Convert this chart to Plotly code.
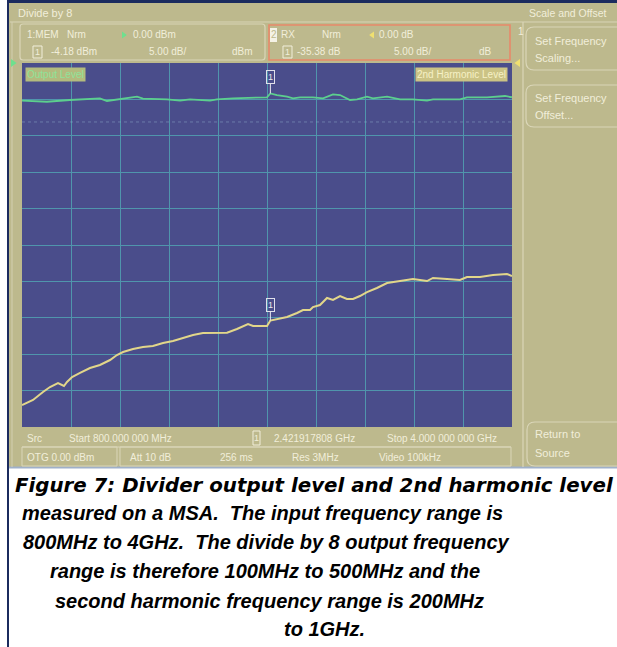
import plotly.graph_objects as go

W, H = 617, 647
def px(x): return x / W
def py(y): return 1 - y / H

# ---------------- data ----------------
x_start, x_stop = 0.8, 4.0          # GHz
ref_level, db_per_div = 0.0, 5.0    # dBm, dB/div
n_div = 10
marker_freq = 2.421917808
marker_out = -4.18
marker_h2 = -35.38
display_line = -8.1

freq_out = [0.800, 0.963, 1.113, 1.198, 1.309, 1.355, 1.420, 1.551, 1.590, 1.747,
            1.832, 1.897, 2.028, 2.073, 2.178, 2.400, 2.422, 2.465, 2.531, 2.570,
            2.616, 2.700, 2.766, 2.831, 2.877, 2.942, 2.988, 3.053, 3.092, 3.184,
            3.269, 3.353, 3.445, 3.484, 3.660, 3.706, 3.837, 3.954, 4.000]
lvl_out = [-5.18, -5.32, -5.08, -4.99, -4.85, -5.22, -4.99, -4.63, -4.90, -4.99,
           -5.18, -4.99, -5.18, -4.99, -4.85, -4.71, -4.18, -4.40, -4.63, -4.85,
           -4.71, -4.71, -4.85, -4.30, -4.40, -5.08, -4.99, -4.63, -4.85, -4.63,
           -4.99, -4.99, -5.18, -4.99, -4.99, -4.71, -4.71, -4.53, -4.71]

freq_h2 = [0.800, 0.872, 0.937, 0.983, 1.035, 1.074, 1.094, 1.127, 1.179, 1.244,
           1.309, 1.375, 1.420, 1.460, 1.525, 1.590, 1.655, 1.721, 1.786, 1.851,
           1.917, 1.982, 2.073, 2.139, 2.204, 2.276, 2.309, 2.400, 2.422, 2.465,
           2.531, 2.596, 2.635, 2.681, 2.700, 2.746, 2.792, 2.831, 2.877, 2.922,
           2.962, 3.007, 3.053, 3.118, 3.184, 3.269, 3.353, 3.445, 3.484, 3.576,
           3.660, 3.706, 3.791, 3.876, 3.967, 4.000]
lvl_h2 = [-46.98, -46.29, -45.19, -44.51, -43.96, -44.37, -43.82, -43.13, -42.58, -41.90,
          -41.48, -40.80, -40.11, -39.70, -39.29, -39.01, -38.87, -38.46, -38.19, -37.77,
          -37.36, -37.09, -37.09, -37.04, -36.54, -35.85, -36.13, -36.13, -35.38, -35.16,
          -34.89, -34.34, -33.93, -33.93, -33.52, -33.24, -32.28, -32.55, -32.01, -32.42,
          -32.42, -32.01, -31.46, -30.91, -30.22, -29.95, -29.67, -29.95, -29.53, -29.67,
          -29.81, -29.40, -29.40, -29.12, -28.98, -29.26]

caption_lines = [
    "Figure 7: Divider output level and 2nd harmonic level",
    "measured on a MSA.&nbsp; The input frequency range is",
    "800MHz to 4GHz.&nbsp; The divide by 8 output frequency",
    "range is therefore 100MHz to 500MHz and the",
    "second harmonic frequency range is 200MHz",
    "to 1GHz.",
]

# ---------------- style ----------------
KHAKI = "#BDB98D"
CREAM = "#F1EEDA"
NAVY = "#1B2B5E"
BLUE = "#4A4D8B"
GRID = "#5095AC"
GREEN = "#5CCF8E"
YELLOW = "#E2D68A"
ORANGE = "#E8896A"
FONT = "Liberation Sans, Arial, sans-serif"

fig = go.Figure()
fig.add_trace(go.Scatter(x=freq_out, y=lvl_out, mode="lines",
                         line=dict(color=GREEN, width=1.8), hoverinfo="skip"))
fig.add_trace(go.Scatter(x=freq_h2, y=lvl_h2, mode="lines",
                         line=dict(color=YELLOW, width=2), hoverinfo="skip"))

xt = [x_start + i * (x_stop - x_start) / n_div for i in range(n_div + 1)]
yt = [ref_level - i * db_per_div for i in range(n_div + 1)]

shapes = []
def rect(x0, y0, x1, y1, line=None, fill=None, w=1):
    shapes.append(dict(type="rect", xref="paper", yref="paper",
                       x0=px(x0), x1=px(x1), y0=py(y1), y1=py(y0),
                       line=dict(color=line or "rgba(0,0,0,0)", width=w if line else 0),
                       fillcolor=fill or "rgba(0,0,0,0)", layer="below" if fill and not line else "above"))
def hline(x0, x1, y, color, w=1):
    shapes.append(dict(type="line", xref="paper", yref="paper",
                       x0=px(x0), x1=px(x1), y0=py(y), y1=py(y),
                       line=dict(color=color, width=w)))
def vline(x, y0, y1, color, w=1):
    shapes.append(dict(type="line", xref="paper", yref="paper",
                       x0=px(x), x1=px(x), y0=py(y0), y1=py(y1),
                       line=dict(color=color, width=w)))
def rrect(x0, y0, x1, y1, r, color, w=1):
    p = (f"M{px(x0+r)},{py(y0)} L{px(x1-r)},{py(y0)} Q{px(x1)},{py(y0)} {px(x1)},{py(y0+r)} "
         f"L{px(x1)},{py(y1-r)} Q{px(x1)},{py(y1)} {px(x1-r)},{py(y1)} "
         f"L{px(x0+r)},{py(y1)} Q{px(x0)},{py(y1)} {px(x0)},{py(y1-r)} "
         f"L{px(x0)},{py(y0+r)} Q{px(x0)},{py(y0)} {px(x0+r)},{py(y0)} Z")
    shapes.append(dict(type="path", xref="paper", yref="paper", path=p,
                       line=dict(color=color, width=w)))
def tri(x, y, s, color, right=True):
    if right:
        p = f"M{px(x)},{py(y-s)} L{px(x+s*1.4)},{py(y)} L{px(x)},{py(y+s)} Z"
    else:
        p = f"M{px(x)},{py(y-s)} L{px(x-s*1.4)},{py(y)} L{px(x)},{py(y+s)} Z"
    shapes.append(dict(type="path", xref="paper", yref="paper", path=p,
                       line=dict(color=color, width=0), fillcolor=color))

# instrument background
rect(8, 0, 617, 467, fill=KHAKI)
rect(22, 63, 512, 427, fill=BLUE)
rect(8, 0, 617, 3, fill=NAVY)
vline(8, 0, 647, NAVY, 2)
hline(9, 617, 467.5, "#9FB0C9", 2)
hline(10, 617, 22, "#D8D4B6", 1)
vline(12, 22, 467, "#D3CFB0", 1)
# info boxes
rrect(20, 24, 265, 60, 3, "#DAD6B8", 1.2)
rect(269, 25, 510, 60, line=ORANGE, w=1.6)
# right panel
vline(523, 22, 467, "#DAD6B8", 1.2)
rrect(526, 27, 640, 70, 8, "#DAD6B8", 1.2)
rrect(526, 85, 640, 127, 8, "#DAD6B8", 1.2)
rrect(527, 422, 640, 466, 8, "#DAD6B8", 1.2)
# bottom bar
hline(22, 511, 447, "#DAD6B8", 1)
rect(22, 447, 117, 466, line="#DAD6B8", w=1)
rect(120, 447, 511, 466, line="#DAD6B8", w=1)
# small boxed '1's
rect(33, 46, 42, 58, line=CREAM, w=1)
rect(283, 46, 292, 58, line=CREAM, w=1)
rect(253, 431, 260, 445, line=CREAM, w=1)
rect(270, 28, 277, 42, fill="#F4F2E6")
# reference triangles
tri(11, 63, 4, "#6EE08E", True)
tri(520, 63, 4, "#F0E070", False)
tri(122, 35, 3.5, "#6EE08E", True)
tri(374, 35, 3.5, "#F0E070", False)
# display line
shapes.append(dict(type="line", xref="x", yref="y", x0=x_start, x1=x_stop,
                   y0=display_line, y1=display_line,
                   line=dict(color="rgba(140,170,200,0.5)", width=1, dash="dot")))

ann = []
def txt(x, y, s, size=10, color=CREAM, anchor="left", bg=None, font=FONT):
    ann.append(dict(xref="paper", yref="paper", x=px(x), y=py(y), text=s,
                    showarrow=False, xanchor=anchor, yanchor="middle",
                    font=dict(family=font, size=size, color=color),
                    bgcolor=bg, borderpad=1))

txt(16, 13, "Divide by 8", 11)
txt(527, 13, "Scale and Offset", 10.5)
txt(25, 35, "1:MEM", 10); txt(65, 35, "Nrm", 10); txt(131, 35, "0.00 dBm", 10)
txt(37.5, 52, "1", 9, anchor="center"); txt(49, 52, "-4.18 dBm", 10)
txt(147, 52, "5.00 dB/", 10); txt(230, 52, "dBm", 10)
txt(273.5, 35, "2", 10, color=KHAKI, anchor="center"); txt(279, 35, "RX", 10)
txt(320, 35, "Nrm", 10); txt(377, 35, "0.00 dB", 10)
txt(287.5, 52, "1", 9, anchor="center"); txt(295, 52, "-35.38 dB", 10)
txt(392, 52, "5.00 dB/", 10); txt(477, 52, "dB", 10)
txt(516, 32, "1", 10)
txt(533, 41, "Set Frequency", 11); txt(533, 58, "Scaling...", 11)
txt(533, 98, "Set Frequency", 11); txt(533, 115, "Offset...", 11)
txt(533, 434, "Return to", 11); txt(533, 453, "Source", 11)
txt(25, 438, "Src", 10); txt(67, 438, "Start 800.000 000 MHz", 10)
txt(256.5, 438, "1", 9, anchor="center"); txt(272, 438, "2.421917808 GHz", 10)
txt(385, 438, "Stop 4.000 000 000 GHz", 10)
txt(25, 457, "OTG 0.00 dBm", 10); txt(128, 457, "Att 10 dB", 10)
txt(218, 457, "256 ms", 10); txt(290, 457, "Res 3MHz", 10)
txt(377, 457, "Video 100kHz", 10)
# trace labels
txt(25, 74, "Output Level", 10, color="#8FE39A", bg="#B3BB7E")
txt(508, 74, "2nd Harmonic Level", 10, color="#F6F1C6", bg="#CBC385", anchor="right")

# markers
for yv in (marker_out, marker_h2):
    ann.append(dict(xref="x", yref="y", x=marker_freq, y=yv, text="1",
                    showarrow=True, arrowhead=0, arrowwidth=1, arrowcolor="#E8E8F0",
                    ax=0, ay=-16, bordercolor="#E0E0EA", borderwidth=1, borderpad=1,
                    font=dict(family=FONT, size=9, color="#E8E8F0")))

# caption
cap_x = [13, 20, 21, 48, 53, 282]
cap_y = [485, 513, 542, 571, 601, 629]
cap_font = ["DejaVu Sans, sans-serif", FONT, FONT, FONT, FONT, FONT]
cap_size = [19.8, 20, 20, 20, 20, 20]
for s, x, y, f, sz in zip(caption_lines, cap_x, cap_y, cap_font, cap_size):
    ann.append(dict(xref="paper", yref="paper", x=px(x), y=py(y),
                    text=f"<b><i>{s}</i></b>", showarrow=False,
                    xanchor="left", yanchor="middle",
                    font=dict(family=f, size=sz, color="black")))

fig.update_layout(
    width=W, height=H, margin=dict(l=0, r=0, t=0, b=0),
    paper_bgcolor="white", plot_bgcolor=BLUE, showlegend=False,
    shapes=shapes, annotations=ann,
    xaxis=dict(domain=[px(22), px(512)], range=[x_start, x_stop],
               tickvals=xt, showticklabels=False, ticks="",
               showgrid=True, gridcolor=GRID, gridwidth=1.3, zeroline=False,
               showline=False, fixedrange=True),
    yaxis=dict(domain=[py(427), py(63)], range=[ref_level - n_div * db_per_div, ref_level],
               tickvals=yt, showticklabels=False, ticks="",
               showgrid=True, gridcolor=GRID, gridwidth=1.3, zeroline=False,
               showline=False, fixedrange=True),
)
fig.write_html("out.html", config={"displayModeBar": False})
